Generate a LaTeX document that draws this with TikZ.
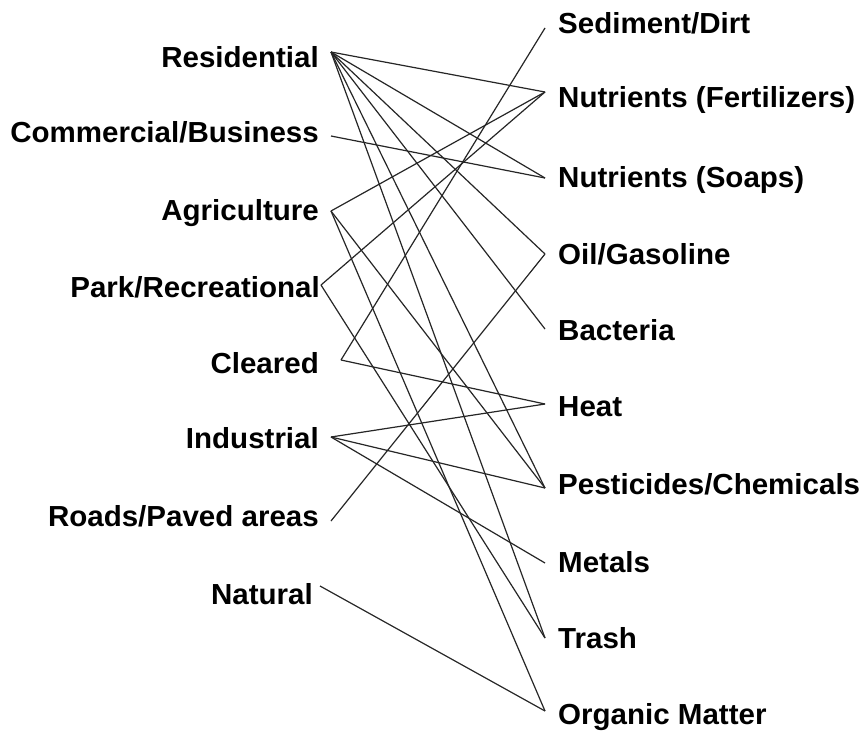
\documentclass[tikz,border=0pt]{standalone}
\usepackage{fontspec}
\setmainfont{Liberation Sans}[FakeStretch=1.018]
\begin{document}
\begin{tikzpicture}[x=1pt,y=-1pt,
  lbl/.style={font=\fontsize{29}{34}\selectfont\bfseries, inner sep=0pt, text=black},
  lft/.style={lbl, anchor=base east},
  rgt/.style={lbl, anchor=base west},
  wire/.style={line width=1.2pt, draw=black!85}]
\useasboundingbox[fill=white] (0,0) rectangle (862,734);
% left labels
\node[lft] (res) at (319,67) {Residential};
\node[lft] (com) at (319,142) {Commercial/Business};
\node[lft] (agr) at (319,220) {Agriculture};
\node[lft] (par) at (320,297) {Park/Recreational};
\node[lft] (cle) at (319,373) {Cleared};
\node[lft] (ind) at (319,448) {Industrial};
\node[lft] (roa) at (319,526) {Roads/Paved areas};
\node[lft] (nat) at (313,604) {Natural};
% right labels
\node[rgt] (sed) at (558,33) {Sediment/Dirt};
\node[rgt] (fer) at (558,107) {Nutrients (Fertilizers)};
\node[rgt] (soa) at (558,187) {Nutrients (Soaps)};
\node[rgt] (oil) at (558,264) {Oil/Gasoline};
\node[rgt] (bac) at (558,340) {Bacteria};
\node[rgt] (hea) at (558,416) {Heat};
\node[rgt] (pes) at (558,494) {Pesticides/Chemicals};
\node[rgt] (met) at (558,572) {Metals};
\node[rgt] (tra) at (558,648) {Trash};
\node[rgt] (org) at (558,724) {Organic Matter};
% connector ends
\coordinate (res-o) at (331,52);
\coordinate (com-o) at (331,136);
\coordinate (agr-o) at (331,211);
\coordinate (par-o) at (321,285);
\coordinate (cle-o) at (341,360);
\coordinate (ind-o) at (331,437);
\coordinate (roa-o) at (331,521);
\coordinate (nat-o) at (320,586);
\coordinate (sed-i) at (545,28);
\coordinate (fer-i) at (545,92);
\coordinate (soa-i) at (545,178);
\coordinate (oil-i) at (545,254);
\coordinate (bac-i) at (545,329);
\coordinate (hea-i) at (545,404);
\coordinate (pes-i) at (545,488);
\coordinate (met-i) at (545,563);
\coordinate (tra-i) at (545,638);
\coordinate (org-i) at (545,711);
% connectors
\draw[wire] (res-o) -- (fer-i);
\draw[wire] (res-o) -- (soa-i);
\draw[wire] (res-o) -- (oil-i);
\draw[wire] (res-o) -- (bac-i);
\draw[wire] (res-o) -- (pes-i);
\draw[wire] (res-o) -- (tra-i);
\draw[wire] (com-o) -- (soa-i);
\draw[wire] (agr-o) -- (fer-i);
\draw[wire] (agr-o) -- (pes-i);
\draw[wire] (agr-o) -- (org-i);
\draw[wire] (par-o) -- (fer-i);
\draw[wire] (par-o) -- (tra-i);
\draw[wire] (cle-o) -- (sed-i);
\draw[wire] (cle-o) -- (hea-i);
\draw[wire] (ind-o) -- (hea-i);
\draw[wire] (ind-o) -- (pes-i);
\draw[wire] (ind-o) -- (met-i);
\draw[wire] (roa-o) -- (oil-i);
\draw[wire] (nat-o) -- (org-i);
\end{tikzpicture}
\end{document}
